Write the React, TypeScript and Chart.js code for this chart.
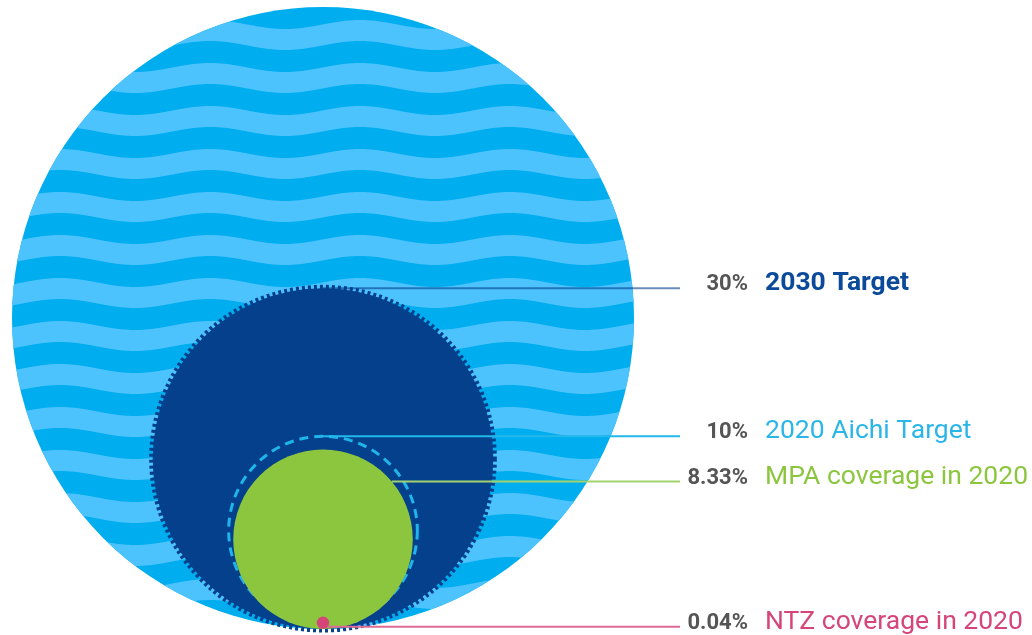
import React, { useEffect, useRef } from 'react';
import { Chart, registerables } from 'chart.js';

Chart.register(...registerables);

// ---- Data ----
const categories = ['2030 Target', '2020 Aichi Target', 'MPA coverage in 2020', 'NTZ coverage in 2020'];
const coverageValues = [30, 10, 8.33, 0.04];
const percentLabels = ['30%', '10%', '8.33%', '0.04%'];
const oceanTotal = 100;

// ---- Styles ----
const oceanColor = '#00ADEF';
const waveColor = '#4DC3FE';
const fillColors = ['#05408C', 'rgba(0,0,0,0)', '#8CC63F', '#D6457A'];
const ringColors = ['rgba(5,64,140,1)', '#1FB5EA', '', ''];
const ringDashes: number[][] = [[3, 3], [9, 6], [], []];
const ringWidths = [5, 3, 0, 0];
const ringInsets = [-1, 4, 0, 0];
const textColors = ['#0B4A9A', '#2BB6E9', '#8CC63F', '#D6457A'];
const textWeights = ['bold', 'normal', 'normal', 'normal'];
const leaderColors = ['rgba(5,64,140,0.6)', '#22B8EA', '#A3D36F', '#DE6A96'];
const anchorAngles = [90, 90, 40, -40];

const unitRadius = (v: number) => Math.sqrt(v / oceanTotal);

const pxRadius = (chart: any, v: number) => {
  const s = chart && chart.scales && chart.scales.y;
  if (!s) return 0;
  return Math.abs(s.getPixelForValue(0) - s.getPixelForValue(unitRadius(v)));
};

function drawWaves(ctx: CanvasRenderingContext2D, cx: number, cy: number, r: number) {
  const period = 43, thick = 21, amp = 4.5, wave = 150, crestX = 210, crestTop = 63;
  ctx.save();
  ctx.beginPath();
  ctx.arc(cx, cy, r, 0, Math.PI * 2);
  ctx.clip();
  ctx.fillStyle = waveColor;
  const x0 = Math.floor(cx - r - 2), x1 = Math.ceil(cx + r + 2);
  const wy = (x: number) => crestTop + amp - amp * Math.cos((2 * Math.PI * (x - crestX)) / wave);
  for (let k = -3; k <= 18; k++) {
    const off = k * period;
    ctx.beginPath();
    for (let x = x0; x <= x1; x++) {
      const y = wy(x) + off;
      if (x === x0) ctx.moveTo(x, y); else ctx.lineTo(x, y);
    }
    for (let x = x1; x >= x0; x--) ctx.lineTo(x, wy(x) + off + thick);
    ctx.closePath();
    ctx.fill();
  }
  ctx.restore();
}

const overlayPlugin = {
  id: 'overlay',
  afterDatasetDraw(chart: any, args: any) {
    const el = args.meta.data[0];
    if (!el) return;
    const ctx = chart.ctx;
    if (args.index === 0) {
      drawWaves(ctx, el.x, el.y, pxRadius(chart, oceanTotal));
      return;
    }
    const i = args.index - 1;
    if (!ringWidths[i]) return;
    const r = pxRadius(chart, coverageValues[i]) - ringInsets[i];
    ctx.save();
    ctx.strokeStyle = ringColors[i];
    ctx.lineWidth = ringWidths[i];
    ctx.setLineDash(ringDashes[i]);
    ctx.beginPath();
    ctx.arc(el.x, el.y, r, 0, Math.PI * 2);
    ctx.stroke();
    ctx.restore();
  },
  afterDraw(chart: any) {
    const ctx = chart.ctx;
    const xs = chart.scales.x;
    const cx = xs.getPixelForValue(0);
    const leaderEnd = cx + 357;
    const pctRight = cx + 425;
    const labelLeft = cx + 442;
    ctx.save();
    categories.forEach((name, i) => {
      const el = chart.getDatasetMeta(i + 1).data[0];
      if (!el) return;
      const r = pxRadius(chart, coverageValues[i]) - Math.max(0, ringInsets[i]);
      const a = (anchorAngles[i] * Math.PI) / 180;
      const ax = el.x + r * Math.cos(a);
      const ay = el.y - r * Math.sin(a);
      ctx.strokeStyle = leaderColors[i];
      ctx.lineWidth = 2;
      ctx.setLineDash([]);
      ctx.beginPath();
      ctx.moveTo(ax, ay);
      ctx.lineTo(leaderEnd, ay);
      ctx.stroke();
      const by = ay + 2;
      ctx.textBaseline = 'alphabetic';
      ctx.textAlign = 'right';
      ctx.fillStyle = '#555555';
      ctx.font = 'bold 22px Roboto';
      ctx.fillText(percentLabels[i], pctRight, by);
      ctx.textAlign = 'left';
      ctx.fillStyle = textColors[i];
      ctx.font = `${textWeights[i]} 26.5px Roboto`;
      ctx.fillText(name, labelLeft, by);
    });
    ctx.restore();
  },
};

export default function App() {
  const ref = useRef<HTMLCanvasElement>(null);
  useEffect(() => {
    const canvas = ref.current!;
    const values = [oceanTotal, ...coverageValues];
    const datasets: any[] = values.map((v, k) => ({
      label: k === 0 ? 'Ocean' : categories[k - 1],
      data: [{ x: 0, y: -1 + unitRadius(v) }],
      pointRadius: (c: any) => pxRadius(c.chart, v),
      pointHoverRadius: (c: any) => pxRadius(c.chart, v),
      pointBackgroundColor: k === 0 ? oceanColor : fillColors[k - 1],
      pointBorderWidth: 0,
      order: 10 - k,
      clip: false,
    }));
    const chart = new Chart(canvas, {
      type: 'scatter',
      data: { datasets },
      options: {
        animation: false,
        responsive: true,
        maintainAspectRatio: false,
        events: [],
        layout: { padding: { left: 12, top: 7, bottom: 6, right: 0 } },
        scales: {
          x: { type: 'linear', min: -1, max: 1020 / 311 - 1, display: false },
          y: { type: 'linear', min: -1, max: 1, display: false },
        },
        plugins: { legend: { display: false }, tooltip: { enabled: false } },
      },
      plugins: [overlayPlugin],
    });
    return () => chart.destroy();
  }, []);
  return (
    <div style={{ position: 'fixed', left: 0, top: 0, width: 1032, height: 635 }}>
      <canvas ref={ref} />
    </div>
  );
}
